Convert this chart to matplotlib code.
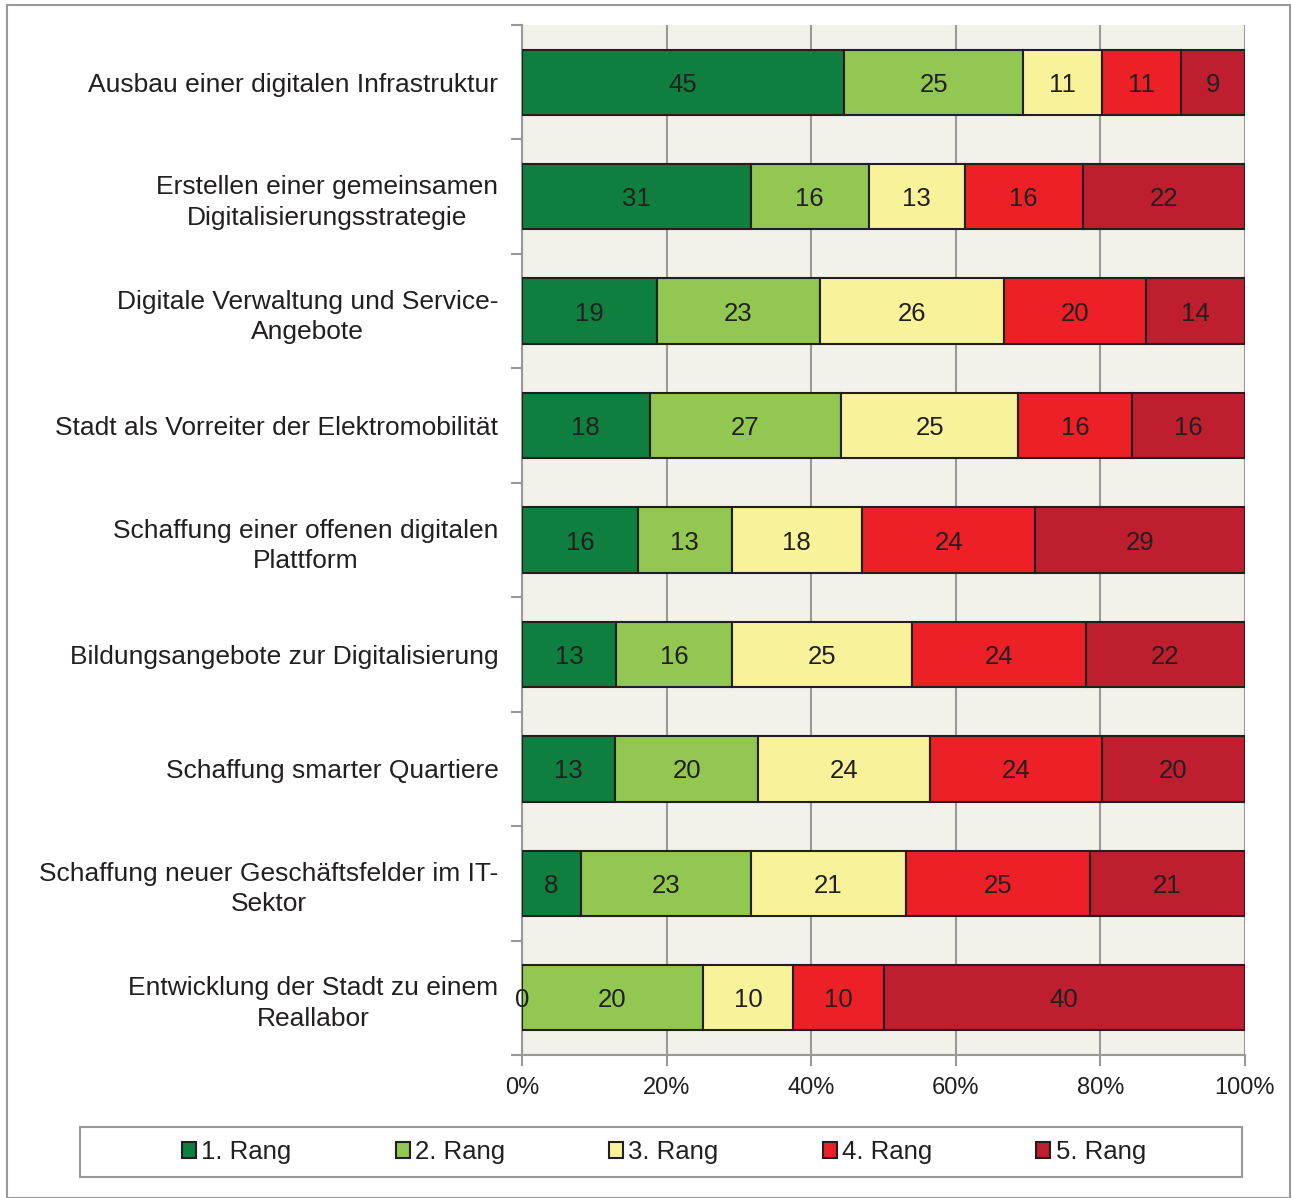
import matplotlib.pyplot as plt
from matplotlib.patches import Rectangle
import numpy as np

plt.rcParams['font.family'] = ['Liberation Sans', 'DejaVu Sans']

categories = [
    "Ausbau einer digitalen Infrastruktur",
    "Erstellen einer gemeinsamen\nDigitalisierungsstrategie",
    "Digitale Verwaltung und Service-\nAngebote",
    "Stadt als Vorreiter der Elektromobilität",
    "Schaffung einer offenen digitalen\nPlattform",
    "Bildungsangebote zur Digitalisierung",
    "Schaffung smarter Quartiere",
    "Schaffung neuer Geschäftsfelder im IT-\nSektor",
    "Entwicklung der Stadt zu einem\nReallabor",
]
rang1 = [45, 31, 19, 18, 16, 13, 13, 8, 0]
rang2 = [25, 16, 23, 27, 13, 16, 20, 23, 20]
rang3 = [11, 13, 26, 25, 18, 25, 24, 21, 10]
rang4 = [11, 16, 20, 16, 24, 24, 24, 25, 10]
rang5 = [9, 22, 14, 16, 29, 22, 20, 21, 40]
series_names = ["1. Rang", "2. Rang", "3. Rang", "4. Rang", "5. Rang"]
colors = ["#0E7F3E", "#92C752", "#F8F39A", "#ED2027", "#BE1E2D"]

data = np.array([rang1, rang2, rang3, rang4, rang5], dtype=float)
totals = data.sum(axis=0)
shares = data / totals

fig = plt.figure(figsize=(12.92, 11.98), dpi=100)
ax = fig.add_axes([522 / 1292, 1 - 1055 / 1198, (1245 - 522) / 1292, (1055 - 25) / 1198])
ax.set_facecolor("#F2F1EA")

y = np.arange(len(categories))
left = np.zeros(len(categories))
handles = []
for i in range(5):
    bars = ax.barh(y, shares[i], left=left, height=0.57, color=colors[i],
                   edgecolor="#231F20", linewidth=1.5, label=series_names[i], zorder=3)
    handles.append(bars)
    for j in range(len(categories)):
        if data[i, j] > 0 or i == 0:
            ax.text(left[j] + shares[i, j] / 2, y[j], f"{int(data[i, j])}",
                    ha="center", va="center_baseline", fontsize=18.5, color="#231F20", zorder=4)
    left += shares[i]

ax.set_xlim(0, 1)
ax.set_ylim(len(categories) - 0.5, -0.5)
ax.set_xticks(np.arange(0, 1.01, 0.2))
ax.set_xticklabels([f"{int(v * 100)}%" for v in np.arange(0, 1.01, 0.2)], fontsize=17, color="#231F20")
ax.set_yticks(y)
ax.set_yticklabels(categories, fontsize=19, color="#231F20", linespacing=1.35,
                   multialignment="center")
ax.set_yticks(np.arange(-0.5, len(categories)), minor=True)
ax.tick_params(axis="y", which="major", length=0, pad=17)
ax.tick_params(axis="y", which="minor", length=8, color="#999999", width=1.5)
ax.tick_params(axis="x", length=8, color="#999999", width=1.5, pad=8)
ax.grid(axis="x", color="#999999", linewidth=1.5, zorder=0)
ax.set_axisbelow(True)
for s in ["top", "right"]:
    ax.spines[s].set_visible(False)
for s in ["left", "bottom"]:
    ax.spines[s].set_color("#999999")
    ax.spines[s].set_linewidth(1.5)

# legend box
fig.patches.append(Rectangle((80 / 1292, 1 - 1177 / 1198), (1242 - 80) / 1292, 50 / 1198,
                             transform=fig.transFigure, facecolor="white",
                             edgecolor="#999999", linewidth=1.5))
fig.legend(handles=handles, labels=series_names, loc="center",
           bbox_to_anchor=(664 / 1292, 1 - 1152 / 1198), ncol=5, frameon=False,
           fontsize=18.5, handlelength=0.55, handleheight=0.55, handletextpad=0.2,
           columnspacing=4.05, labelcolor="#231F20")

# outer border
fig.patches.append(Rectangle((7 / 1292, 0), (1290 - 7) / 1292, 1 - 5 / 1198,
                             transform=fig.transFigure, facecolor="none",
                             edgecolor="#999999", linewidth=1.5))

fig.savefig("out.png", dpi=100)
